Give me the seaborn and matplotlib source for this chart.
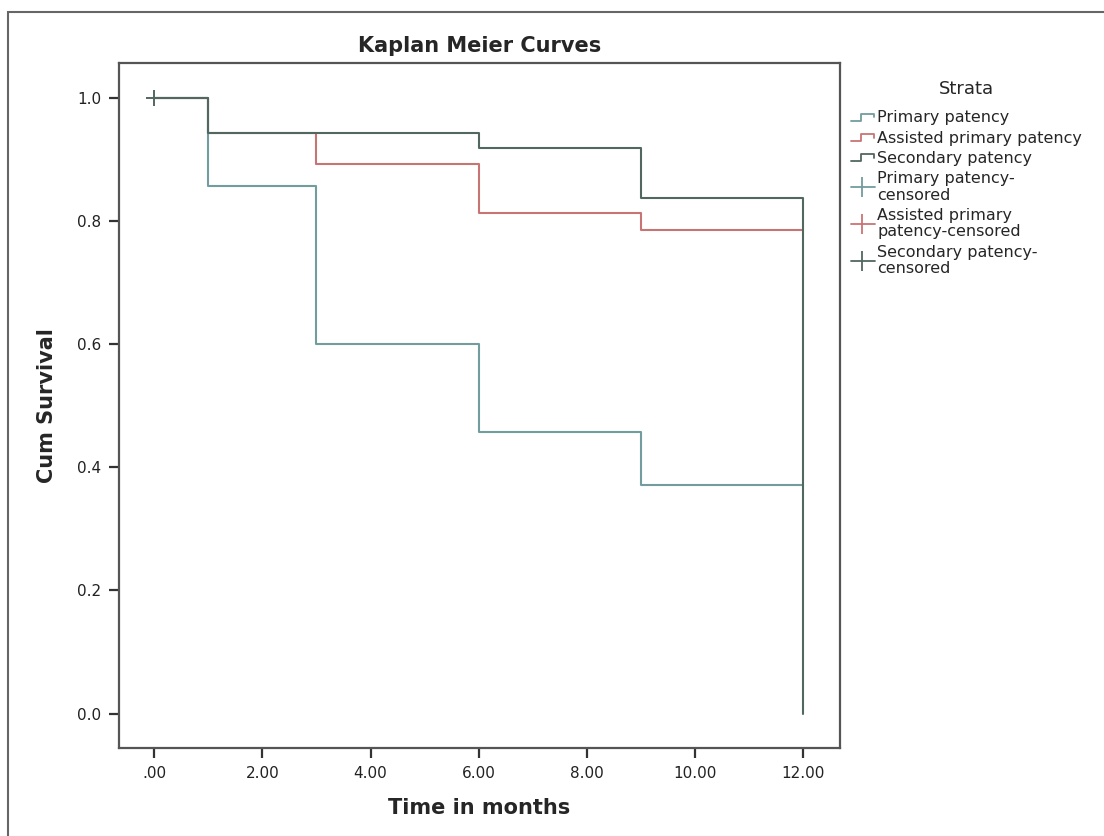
import numpy as np
import pandas as pd
import matplotlib
matplotlib.use("Agg")
import matplotlib.pyplot as plt
import seaborn as sns
from matplotlib.lines import Line2D
from matplotlib.legend_handler import HandlerBase
from matplotlib.patches import Rectangle

# ---- data ----
strata = ["Primary patency", "Assisted primary patency", "Secondary patency"]
primary_time = [0, 1, 3, 6, 9, 12]
primary_surv = [1.0, 0.857, 0.600, 0.457, 0.371, 0.371]
assisted_time = [0, 1, 3, 6, 9, 12]
assisted_surv = [1.0, 0.943, 0.893, 0.813, 0.786, 0.786]
secondary_time = [0, 1, 6, 9, 12, 12]
secondary_surv = [1.0, 0.943, 0.919, 0.838, 0.838, 0.0]
censor_time = [0]
censor_surv = [1.0]

x_ticks = [0, 2, 4, 6, 8, 10, 12]
x_tick_labels = [".00", "2.00", "4.00", "6.00", "8.00", "10.00", "12.00"]
y_ticks = [0.0, 0.2, 0.4, 0.6, 0.8, 1.0]
y_tick_labels = ["0.0", "0.2", "0.4", "0.6", "0.8", "1.0"]

colors = {"Primary patency": "#739c9e",
          "Assisted primary patency": "#c97474",
          "Secondary patency": "#52675f"}

rows = []
for name, t, s in [(strata[0], primary_time, primary_surv),
                   (strata[1], assisted_time, assisted_surv),
                   (strata[2], secondary_time, secondary_surv)]:
    for i, (ti, si) in enumerate(zip(t, s)):
        rows.append({"Strata": name, "time": ti, "surv": si, "order": i})
df = pd.DataFrame(rows)

sns.set_style("white")
plt.rcParams["font.family"] = ["DejaVu Sans"]

fig = plt.figure(figsize=(11.04, 8.36), dpi=100)
ax = fig.add_axes([0.1078, 0.1053, 0.6531, 0.8193])

sns.lineplot(data=df, x="time", y="surv", hue="Strata", units="Strata",
             estimator=None, sort=False, drawstyle="steps-post",
             palette=colors, hue_order=strata, linewidth=1.5, ax=ax,
             legend=False)
ax.plot(censor_time, censor_surv, marker="+", markersize=12,
        markeredgewidth=1.4, color=colors["Secondary patency"],
        linestyle="none")

ax.set_xlim(-0.65, 12.68)
ax.set_ylim(-0.056, 1.057)
ax.set_xticks(x_ticks)
ax.set_xticklabels(x_tick_labels)
ax.set_yticks(y_ticks)
ax.set_yticklabels(y_tick_labels)
ax.tick_params(axis="both", direction="out", length=7, width=1.6,
               color="#333333", labelsize=11, labelcolor="#222222",
               bottom=True, left=True, pad=6)
for sp in ax.spines.values():
    sp.set_visible(True)
    sp.set_color("#555555")
    sp.set_linewidth(1.6)

ax.set_xlabel("Time in months", fontsize=15, fontweight="bold", labelpad=12)
ax.set_ylabel("Cum Survival", fontsize=15, fontweight="bold", labelpad=14)
ax.set_title("Kaplan Meier Curves", fontsize=15, fontweight="bold", pad=8)

# outer frame
fig.patches.append(Rectangle((8 / 1104, -0.01), 1.2, (836 - 12) / 836 + 0.01,
                             transform=fig.transFigure, fill=False,
                             edgecolor="#666666", linewidth=1.5))


class StepHandler(HandlerBase):
    def create_artists(self, legend, orig_handle, xd, yd, w, h, fontsize, trans):
        xs = [xd + 0.0 * w, xd + 0.4 * w, xd + 0.4 * w, xd + 0.95 * w, xd + 0.95 * w]
        ys = [yd + 0.15 * h, yd + 0.15 * h, yd + 0.8 * h, yd + 0.8 * h, yd + 0.45 * h]
        ln = Line2D(xs, ys, color=orig_handle.get_color(), linewidth=1.3,
                    transform=trans)
        return [ln]


class CensorHandler(HandlerBase):
    def create_artists(self, legend, orig_handle, xd, yd, w, h, fontsize, trans):
        ln = Line2D([xd, xd + w], [yd + 0.5 * h, yd + 0.5 * h],
                    color=orig_handle.get_color(), linewidth=1.3, transform=trans)
        mk = Line2D([xd + 0.45 * w], [yd + 0.5 * h], marker="|", markersize=14,
                    markeredgewidth=1.3, color=orig_handle.get_color(),
                    linestyle="none", transform=trans)
        return [ln, mk]


step_handles = [Line2D([], [], color=colors[s]) for s in strata]
cens_handles = [Line2D([], [], color=colors[s], marker="+") for s in strata]
labels = strata + ["Primary patency-\ncensored",
                   "Assisted primary\npatency-censored",
                   "Secondary patency-\ncensored"]
hmap = {h: StepHandler() for h in step_handles}
hmap.update({h: CensorHandler() for h in cens_handles})
leg = fig.legend(step_handles + cens_handles, labels, handler_map=hmap,
                 title="Strata", loc="upper left",
                 bbox_to_anchor=(0.765, 0.912), frameon=False,
                 fontsize=11.5, title_fontsize=13, handlelength=1.5,
                 handletextpad=0.15, labelspacing=0.33, borderaxespad=0)
leg._legend_box.align = "center"
leg._legend_box.sep = 9
for t in leg.get_texts():
    t.set_linespacing(1.12)

fig.savefig("out.png", dpi=100, facecolor="white")
